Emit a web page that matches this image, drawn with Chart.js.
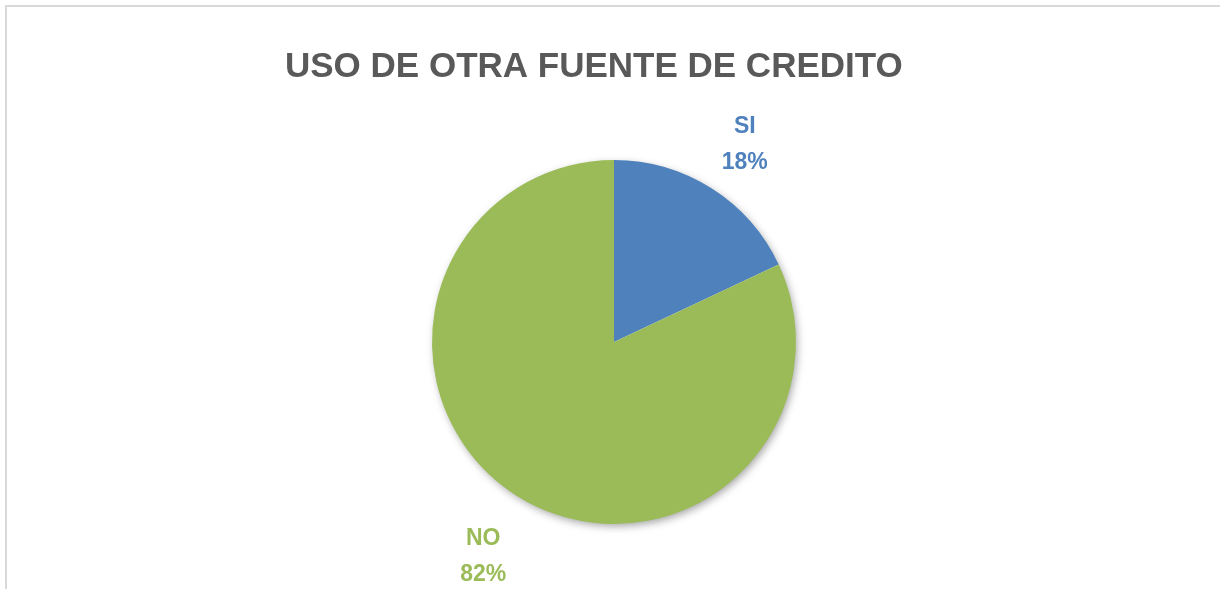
<!DOCTYPE html>
<html>
<head>
<meta charset="utf-8">
<script src="https://cdn.jsdelivr.net/npm/chart.js@4/dist/chart.umd.min.js"></script>
<style>
  html, body { margin:0; padding:0; background:#fff; overflow:hidden; }
  .frame { position:absolute; left:5px; top:5px; width:1240px; height:620px; border:2px solid #d9d9d9; box-sizing:border-box; }
  .wrap { position:absolute; left:7px; top:7px; width:1164px; height:582px; }
</style>
</head>
<body>
<div class="frame"></div>
<div class="wrap"><canvas id="pie"></canvas></div>
<script>
// pie: uso de otra fuente de credito
const TITLE = "USO DE OTRA FUENTE DE CREDITO";
const labels = ["SI", "NO"];
const values = [18, 82];
const colors = ["#4F81BD", "#9BBB59"];

const FONT = "'Liberation Sans', Arial, sans-serif";

// soft shadow under the whole pie, taken from the arc geometry
const shadowPlugin = {
  id: "pieShadow",
  beforeDatasetsDraw(chart){
    const arc = chart.getDatasetMeta(0).data[0];
    if(!arc) return;
    const ctx = chart.ctx;
    ctx.save();
    ctx.shadowColor = "rgba(0,0,0,0.38)";
    ctx.shadowBlur = 9;
    ctx.shadowOffsetX = 2;
    ctx.shadowOffsetY = 3;
    ctx.fillStyle = "#ffffff";
    ctx.beginPath();
    ctx.arc(arc.x, arc.y, arc.outerRadius - 1, 0, Math.PI * 2);
    ctx.fill();
    ctx.restore();
  }
};

// category + percent labels outside each slice
const outLabels = {
  id: "outLabels",
  afterDatasetsDraw(chart){
    const ctx = chart.ctx;
    const total = values.reduce((a,b)=>a+b,0);
    chart.getDatasetMeta(0).data.forEach((arc, i)=>{
      const mid = (arc.startAngle + arc.endAngle) / 2;
      const d = arc.outerRadius + 62;
      const x = arc.x + Math.cos(mid) * d;
      const y = arc.y + Math.sin(mid) * d + 9;
      ctx.save();
      ctx.fillStyle = colors[i];
      ctx.font = "bold 23px " + FONT;
      ctx.textAlign = "center";
      ctx.textBaseline = "middle";
      ctx.fillText(labels[i], x, y - 18);
      ctx.fillText(Math.round(values[i] / total * 100) + "%", x, y + 18);
      ctx.restore();
    });
  }
};

new Chart(document.getElementById("pie"), {
  type: "pie",
  data: {
    labels,
    datasets: [{ data: values, backgroundColor: colors, borderWidth: 0 }]
  },
  options: {
    responsive: true,
    maintainAspectRatio: false,
    animation: false,
    layout: { padding: { top: 0, bottom: 65, left: 278, right: 228 } },
    plugins: {
      legend: { display: false },
      tooltip: { enabled: false },
      title: {
        display: true,
        text: TITLE,
        align: "start",
        color: "#595959",
        font: { family: FONT, size: 35, weight: "bold" },
        padding: { top: 39, bottom: 72 }
      }
    }
  },
  plugins: [shadowPlugin, outLabels]
});
</script>
</body>
</html>
